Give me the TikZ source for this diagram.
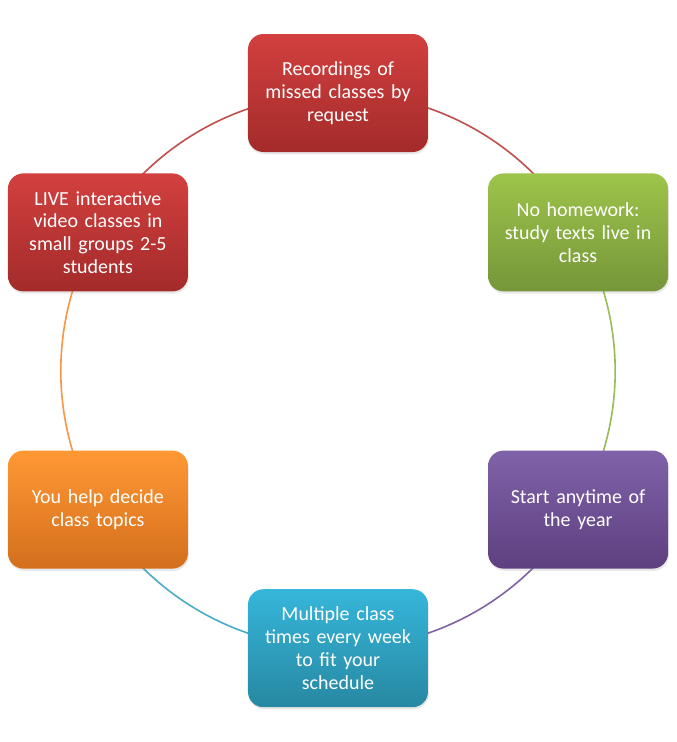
\documentclass[tikz,border=0pt]{standalone}
\usepackage{fontspec}
\setmainfont{Carlito}
\usepackage{xcolor}
\usetikzlibrary{positioning, backgrounds, shadows}
\definecolor{redtop}{HTML}{D2403F}
\definecolor{redbot}{HTML}{A32B2A}
\definecolor{greentop}{HTML}{9DC44A}
\definecolor{greenbot}{HTML}{76963A}
\definecolor{purpletop}{HTML}{8062AA}
\definecolor{purplebot}{HTML}{5E3F7F}
\definecolor{aquatop}{HTML}{36B6DA}
\definecolor{aquabot}{HTML}{2788A2}
\definecolor{orangetop}{HTML}{FF9834}
\definecolor{orangebot}{HTML}{D36F1D}
\definecolor{redline}{HTML}{C0504D}
\definecolor{greenline}{HTML}{9BBB59}
\definecolor{purpleline}{HTML}{8064A2}
\definecolor{aqualine}{HTML}{4BACC6}
\definecolor{orangeline}{HTML}{F79646}

\tikzset{
  card/.style={rounded corners=11pt, minimum width=4.5cm, minimum height=2.95cm,
    text width=4.1cm, align=center, text=white, font=\fontsize{14.2}{16.2}\selectfont,
    drop shadow={shadow xshift=0.6pt, shadow yshift=-1.6pt, opacity=0.18}},
  ring/.style={line width=1.15pt}
}

\begin{document}
\begin{tikzpicture}
    \useasboundingbox (-8.45,-9.275) rectangle (8.475,9.275);
    \def\rad{6.93}

    \node[card, top color=redtop, bottom color=redbot] (rec) at (90:6.95)
      {Recordings of\\ missed classes by\\ request};
    \node[card, top color=greentop, bottom color=greenbot] (nohw) at (30:\rad)
      {No homework:\\ study texts live in\\ class};
    \node[card, top color=purpletop, bottom color=purplebot] (start) at (-30:\rad)
      {Start anytime of\\ the year};
    \node[card, top color=aquatop, bottom color=aquabot] (times) at (-90:\rad)
      {Multiple class\\ times every week\\ to fit your\\ schedule};
    \node[card, top color=orangetop, bottom color=orangebot] (topics) at (-150:\rad)
      {You help decide\\ class topics};
    \node[card, top color=redtop, bottom color=redbot] (live) at (150:\rad)
      {LIVE interactive\\ video classes in\\ small groups 2-5\\ students};

    % ring behind the cards
    \begin{scope}[on background layer]
      \draw[ring, redline] (rec.center) arc[start angle=90, end angle=30, radius=\rad];
      \draw[ring, greenline] (nohw.center) arc[start angle=30, end angle=-30, radius=\rad];
      \draw[ring, purpleline] (start.center) arc[start angle=-30, end angle=-90, radius=\rad];
      \draw[ring, aqualine] (times.center) arc[start angle=-90, end angle=-150, radius=\rad];
      \draw[ring, orangeline] (topics.center) arc[start angle=210, end angle=150, radius=\rad];
      \draw[ring, redline] (live.center) arc[start angle=150, end angle=90, radius=\rad];
    \end{scope}
  \end{tikzpicture}
\end{document}
